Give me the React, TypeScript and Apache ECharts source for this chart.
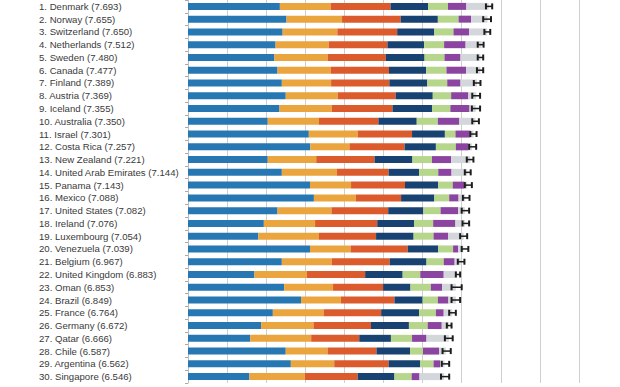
import React, { useEffect, useRef } from "react";
import * as echarts from "echarts";

const countries = [
  "Denmark", "Norway", "Switzerland", "Netherlands", "Sweden", "Canada", "Finland", "Austria", "Iceland", "Australia",
  "Israel", "Costa Rica", "New Zealand", "United Arab Emirates", "Panama", "Mexico", "United States", "Ireland", "Luxembourg", "Venezuela",
  "Belgium", "United Kingdom", "Oman", "Brazil", "France", "Germany", "Qatar", "Chile", "Argentina", "Singapore",
];
const scores = [
  7.693, 7.655, 7.65, 7.512, 7.48, 7.477, 7.389, 7.369, 7.355, 7.35,
  7.301, 7.257, 7.221, 7.144, 7.143, 7.088, 7.082, 7.076, 7.054, 7.039,
  6.967, 6.883, 6.853, 6.849, 6.764, 6.672, 6.666, 6.587, 6.562, 6.546,
];
const dystopia = [2.35, 2.52, 2.42, 2.24, 2.21, 2.29, 2.40, 2.50, 2.34, 2.04, 3.09, 3.13, 2.04, 2.40, 3.12, 3.22, 2.29, 1.94, 1.80, 3.12, 2.40, 1.70, 2.46, 2.89, 2.17, 1.87, 1.59, 2.50, 2.63, 1.57];
const gdp = [1.30, 1.42, 1.40, 1.36, 1.36, 1.36, 1.26, 1.33, 1.34, 1.31, 1.25, 1.00, 1.24, 1.41, 1.05, 1.07, 1.38, 1.31, 1.55, 1.04, 1.28, 1.34, 1.25, 1.02, 1.30, 1.34, 1.56, 1.07, 1.11, 1.42];
const social = [1.53, 1.50, 1.53, 1.50, 1.49, 1.49, 1.49, 1.48, 1.55, 1.52, 1.39, 1.41, 1.49, 1.32, 1.38, 1.16, 1.45, 1.59, 1.46, 1.46, 1.48, 1.49, 1.28, 1.37, 1.47, 1.47, 1.23, 1.25, 1.39, 1.35];
const health = [0.96, 0.95, 0.95, 0.94, 0.99, 0.95, 0.97, 0.95, 1.01, 0.98, 0.84, 0.80, 0.97, 0.78, 0.85, 0.85, 0.90, 0.94, 0.96, 0.78, 0.94, 0.96, 0.70, 0.72, 0.97, 0.97, 0.81, 0.86, 0.81, 0.94];
const freedom = [0.51, 0.53, 0.49, 0.51, 0.51, 0.52, 0.51, 0.47, 0.47, 0.54, 0.27, 0.51, 0.50, 0.49, 0.37, 0.38, 0.44, 0.49, 0.51, 0.38, 0.44, 0.45, 0.52, 0.39, 0.43, 0.48, 0.54, 0.33, 0.34, 0.44];
const generosity = [0.47, 0.32, 0.40, 0.55, 0.41, 0.50, 0.34, 0.44, 0.49, 0.55, 0.37, 0.32, 0.49, 0.34, 0.30, 0.24, 0.45, 0.57, 0.37, 0.13, 0.28, 0.60, 0.29, 0.27, 0.20, 0.36, 0.37, 0.41, 0.17, 0.20];
const corruption = [0.57, 0.42, 0.46, 0.41, 0.51, 0.37, 0.42, 0.20, 0.16, 0.41, 0.09, 0.09, 0.49, 0.40, 0.07, 0.17, 0.17, 0.24, 0.40, 0.13, 0.15, 0.34, 0.35, 0.19, 0.22, 0.18, 0.57, 0.17, 0.11, 0.63];
const ciLow = [7.62, 7.55, 7.58, 7.41, 7.41, 7.39, 7.31, 7.27, 7.26, 7.27, 7.22, 7.19, 7.13, 7.08, 7.08, 7.03, 7.00, 7.02, 6.96, 7.00, 6.90, 6.85, 6.74, 6.74, 6.68, 6.62, 6.57, 6.51, 6.49, 6.47];
const ciHigh = [7.78, 7.75, 7.73, 7.56, 7.55, 7.55, 7.48, 7.47, 7.47, 7.44, 7.38, 7.37, 7.30, 7.23, 7.26, 7.20, 7.19, 7.19, 7.14, 7.17, 7.07, 6.96, 7.00, 6.96, 6.85, 6.74, 6.77, 6.72, 6.68, 6.68];
const xTicks = { min: 0, max: 10, interval: 1 };

const segmentNames = ["Dystopia + residual", "GDP per capita", "Social support", "Healthy life expectancy", "Freedom", "Generosity", "Corruption"];
const segmentData = [dystopia, gdp, social, health, freedom, generosity, corruption];
const segmentColors = ["#2778b2", "#eba53e", "#dc5b2c", "#174272", "#b5d68b", "#8b45a0", "#d3d6da"];

export default function App() {
  const ref = useRef<HTMLDivElement>(null);
  useEffect(() => {
    if (!ref.current) return;
    const chart = echarts.init(ref.current, null, { renderer: "svg" });
    const labels = countries.map((c, i) => `${i + 1}. ${c} (${scores[i].toFixed(3)})`);
    const series: any[] = segmentData.map((d, k) => ({
      name: segmentNames[k],
      type: "bar",
      stack: "total",
      barWidth: 7,
      data: d,
      itemStyle: { color: segmentColors[k] },
      silent: true,
    }));
    series.push({
      type: "custom",
      name: "CI",
      silent: true,
      data: ciLow.map((lo, i) => [lo, ciHigh[i], i]),
      encode: { x: [0, 1], y: 2 },
      z: 10,
      renderItem: (params: any, api: any) => {
        const a = api.coord([api.value(0), api.value(2)]);
        const b = api.coord([api.value(1), api.value(2)]);
        const h = 3;
        const style = { stroke: "#1d1d1d", lineWidth: 2 };
        return {
          type: "group",
          children: [
            { type: "line", shape: { x1: a[0], y1: a[1], x2: b[0], y2: b[1] }, style: { stroke: "#1d1d1d", lineWidth: 1.5 } },
            { type: "line", shape: { x1: a[0], y1: a[1] - h, x2: a[0], y2: a[1] + h }, style },
            { type: "line", shape: { x1: b[0], y1: b[1] - h, x2: b[0], y2: b[1] + h }, style },
          ],
        };
      },
    });
    chart.setOption({
      animation: false,
      backgroundColor: "#ffffff",
      grid: { left: 188, right: 41, top: 0, bottom: 4 },
      xAxis: {
        type: "value",
        min: xTicks.min,
        max: xTicks.max,
        interval: xTicks.interval,
        axisLabel: { show: false },
        axisLine: { show: false },
        axisTick: { show: false },
        splitLine: { show: true, lineStyle: { color: "#cfcfcf", width: 1 } },
      },
      yAxis: {
        type: "category",
        inverse: true,
        data: labels,
        axisLine: { show: true, lineStyle: { color: "#bdbdbd" } },
        axisTick: { show: true, length: 3, lineStyle: { color: "#aaaaaa" } },
        axisLabel: {
          interval: 0,
          align: "left",
          margin: 149,
          color: "#3a3a3a",
          fontSize: 9.6,
          fontFamily: "Liberation Sans, Arial, sans-serif",
        },
      },
      series,
    });
    return () => chart.dispose();
  }, []);
  return (
    <div
      ref={ref}
      style={{ position: "fixed", left: 0, top: 0, width: 620, height: 387, background: "#fff" }}
    />
  );
}
